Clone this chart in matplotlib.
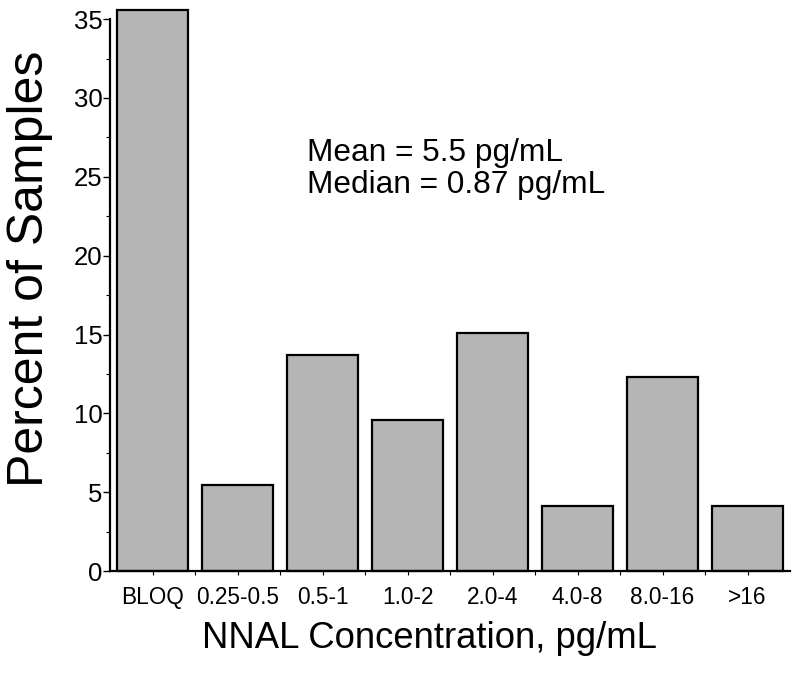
import numpy as np
import matplotlib
matplotlib.use('Agg')
import matplotlib.pyplot as plt
from matplotlib.ticker import MultipleLocator, FixedLocator

plt.rcParams['font.family'] = ['Liberation Sans', 'DejaVu Sans']

# NNAL concentration bins and percent of samples
categories = ['BLOQ', '0.25-0.5', '0.5-1', '1.0-2', '2.0-4', '4.0-8', '8.0-16', '>16']
percent = [35.6, 5.48, 13.70, 9.59, 15.07, 4.11, 12.33, 4.11]
stats_lines = ['Mean = 5.5 pg/mL', 'Median = 0.87 pg/mL']

fig = plt.figure(figsize=(8, 6.76), dpi=100)
ax = fig.add_axes([0.1375, 0.1553, 0.85, 0.8397])

x = np.arange(len(categories))
ax.bar(x, percent, width=0.83, color='#b5b5b5', edgecolor='black',
       linewidth=1.6, clip_on=False, zorder=2)

ax.set_xlim(-0.5, len(categories) - 0.5)
ax.set_ylim(0, 36)

for s in ['top', 'right']:
    ax.spines[s].set_visible(False)
ax.spines['left'].set_bounds(0, 35)
ax.spines['left'].set_linewidth(1.6)
ax.spines['bottom'].set_linewidth(1.6)

ax.set_xticks(x)
ax.set_xticklabels(categories)
ax.xaxis.set_minor_locator(FixedLocator(x[:-1] + 0.5))
ax.yaxis.set_major_locator(MultipleLocator(5))
ax.yaxis.set_minor_locator(MultipleLocator(2.5))

ax.tick_params(axis='y', which='major', length=5, width=1, pad=0.5, labelsize=18.5)
ax.tick_params(axis='y', which='minor', length=3, width=0.8)
ax.tick_params(axis='x', which='major', length=3, width=0.8, pad=8, labelsize=16.3)
ax.tick_params(axis='x', which='minor', length=3, width=0.8)

# summary statistics
ax.text(1.814, 26.0, stats_lines[0], fontsize=22.8, va='baseline', ha='left')
ax.text(1.814, 24.0, stats_lines[1], fontsize=22.8, va='baseline', ha='left')

fig.text(0.038, 0.603, 'Percent of Samples', rotation=90, fontsize=36,
         ha='center', va='center')
fig.text(0.5375, 0.0414, 'NNAL Concentration, pg/mL', fontsize=26.3,
         ha='center', va='baseline')

fig.savefig('out.png', dpi=100)
